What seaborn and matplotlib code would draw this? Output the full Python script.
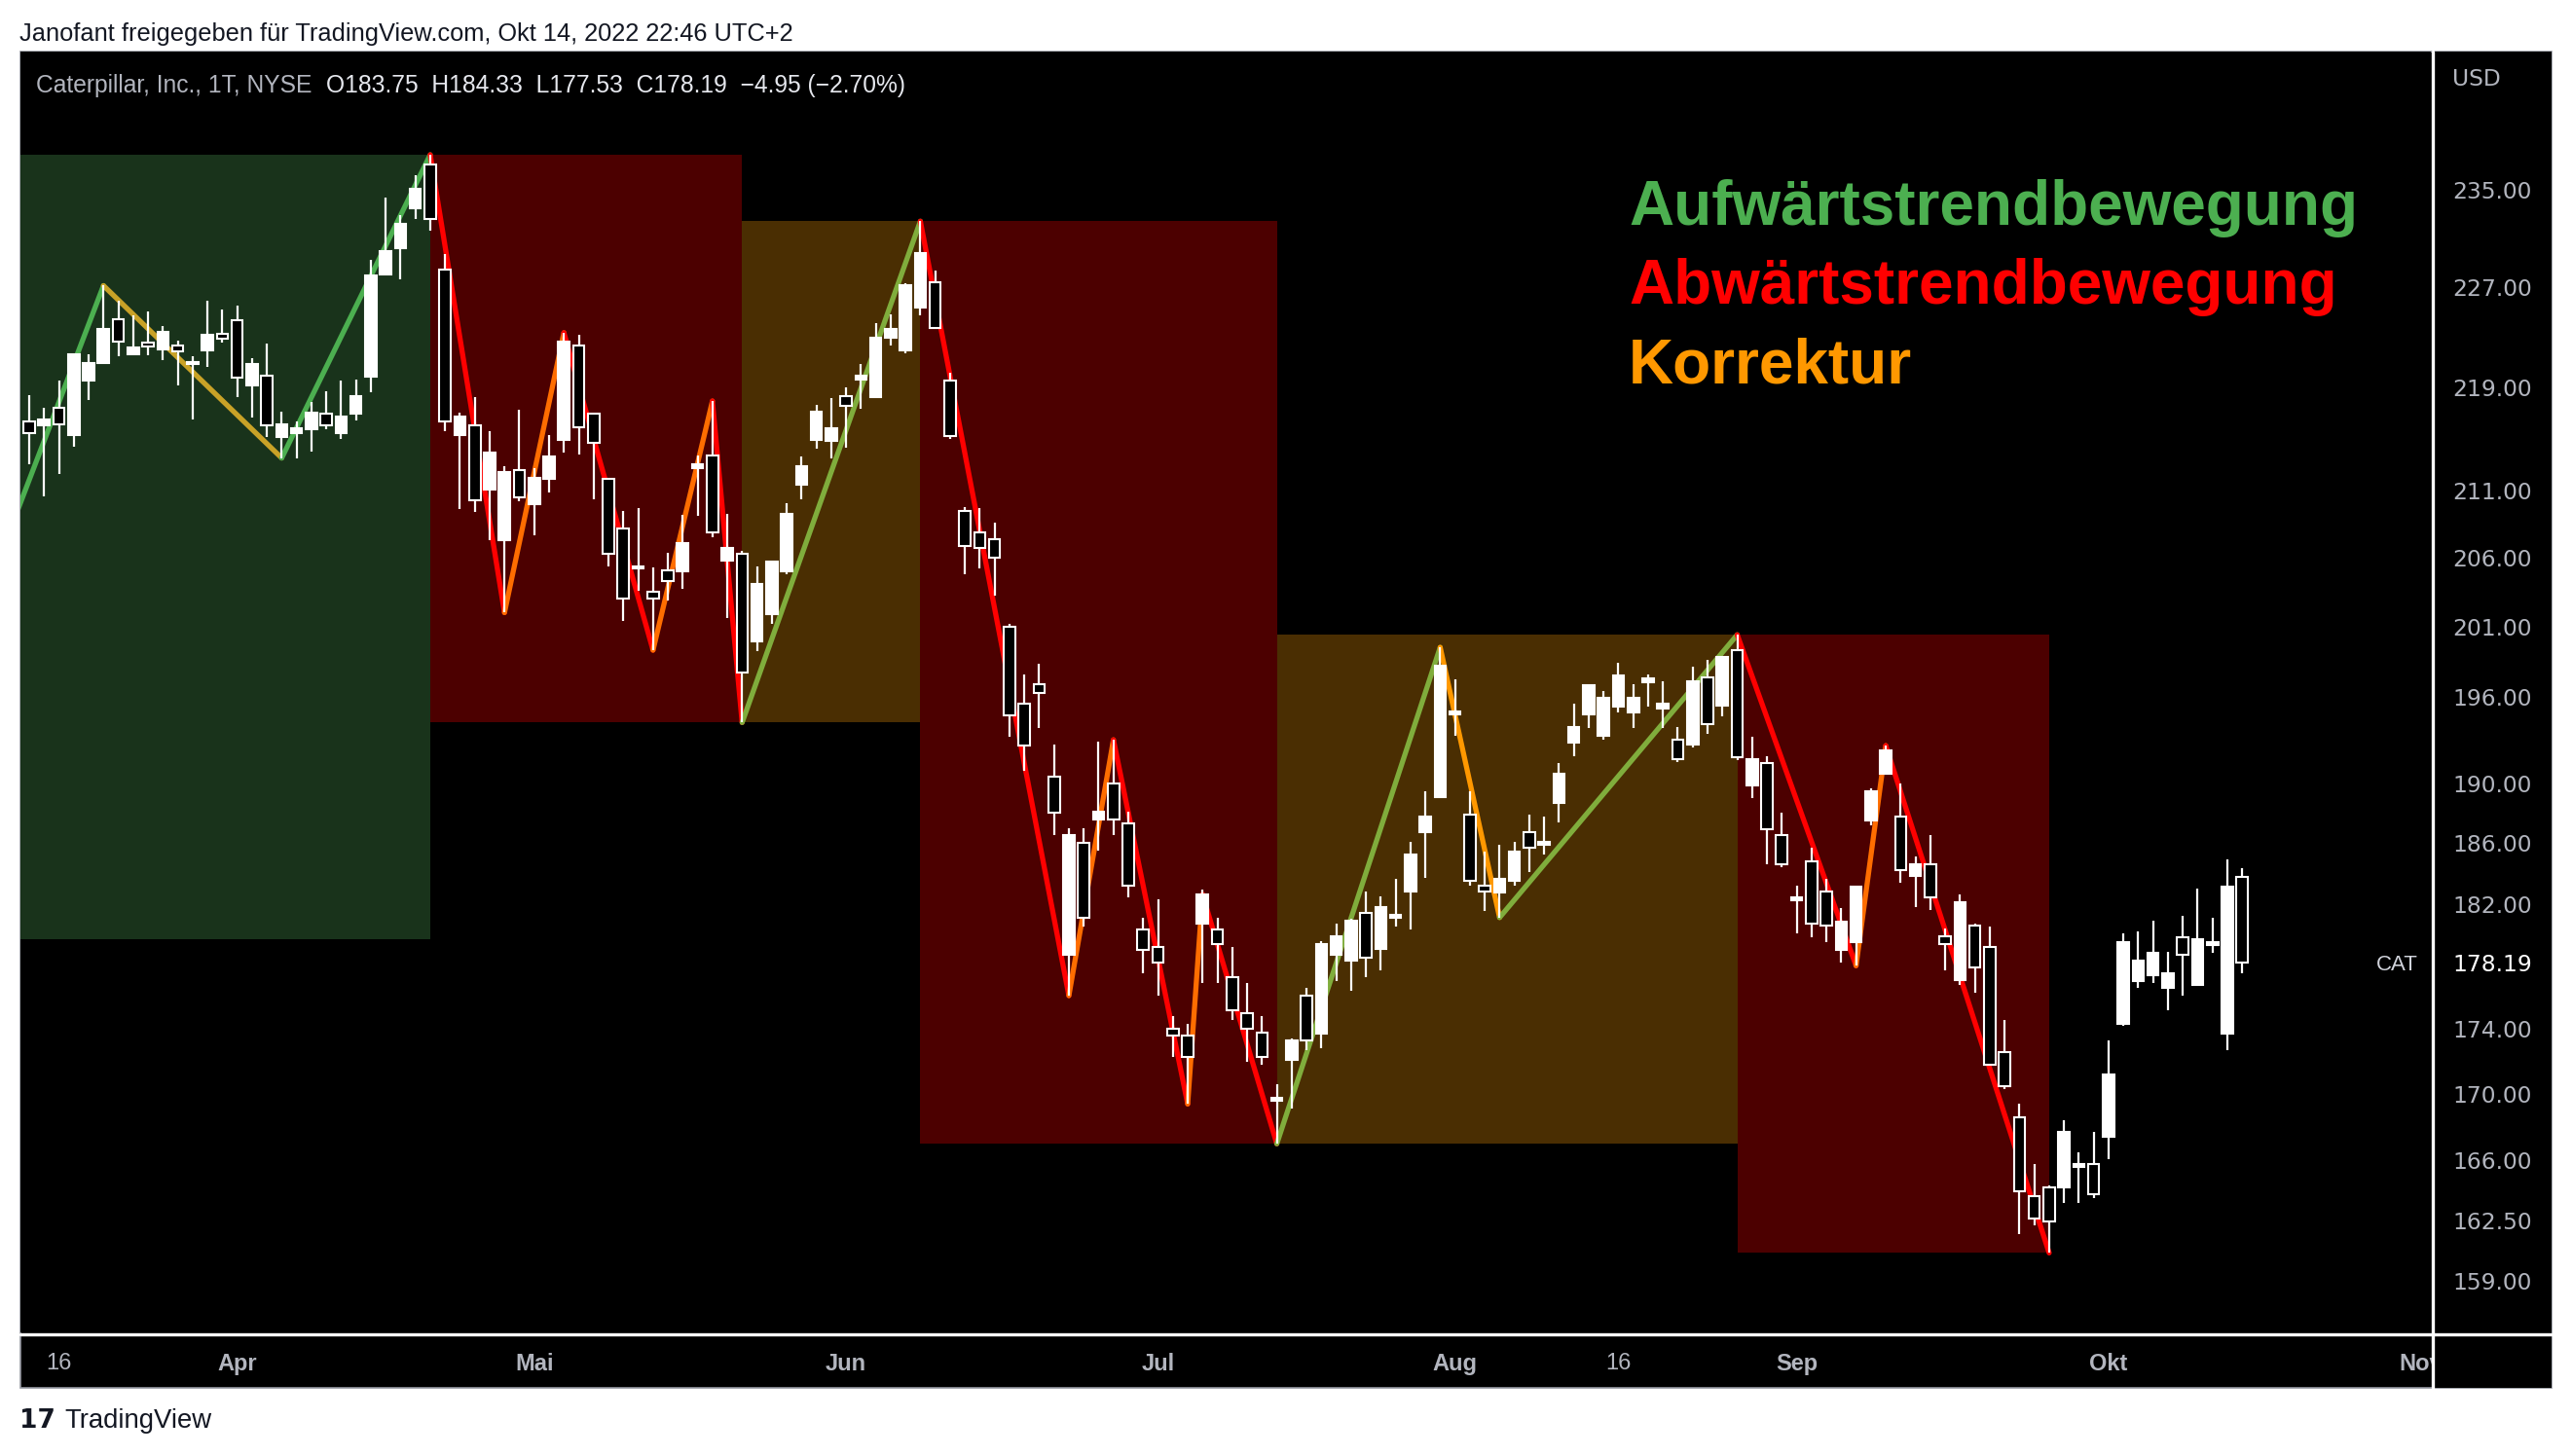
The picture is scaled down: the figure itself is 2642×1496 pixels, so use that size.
import numpy as np
import pandas as pd
import matplotlib
matplotlib.use('Agg')
import matplotlib.pyplot as plt
from matplotlib.patches import Rectangle
from matplotlib.lines import Line2D
import matplotlib.transforms as mtransforms
import seaborn as sns

# --- Daten (CAT, Tageskerzen 14.03.2022 - 14.10.2022, Index = Handelstag) ---
opens = [216.3, 216.0, 217.4, 215.3, 219.5, 220.9, 224.4, 221.6, 222.5, 222.0,
         222.3, 220.8, 221.9, 223.2, 224.3, 219.1, 219.9, 215.1, 215.4, 215.7,
         216.9, 215.4, 216.9, 219.8, 228.0, 230.2, 233.5, 237.2, 228.4, 215.3,
         216.0, 211.1, 207.3, 212.6, 210.0, 211.9, 214.9, 222.3, 216.9, 211.9,
         208.2, 205.4, 203.5, 205.1, 205.0, 212.7, 213.7, 205.8, 206.3, 199.9,
         201.9, 205.0, 211.5, 214.9, 214.8, 218.3, 219.6, 218.2, 222.9, 221.9,
         225.3, 227.4, 219.5, 209.5, 207.9, 207.4, 201.0, 195.5, 196.9, 190.5,
         178.7, 186.0, 187.6, 190.0, 187.3, 180.3, 179.2, 174.0, 173.6, 180.7,
         180.3, 177.3, 175.0, 173.8, 169.6, 172.1, 176.1, 173.7, 178.7, 178.3,
         181.4, 179.1, 181.1, 182.8, 186.7, 189.1, 194.8, 187.9, 183.2, 182.7,
         183.5, 186.7, 185.9, 188.7, 192.8, 194.8, 193.3, 195.3, 194.9, 197.0,
         195.2, 193.0, 192.7, 197.4, 195.4, 199.3, 189.9, 191.4, 186.5, 182.2,
         184.8, 182.8, 179.0, 179.5, 187.5, 190.7, 187.8, 183.8, 184.6, 179.9,
         177.1, 180.6, 179.2, 172.6, 168.6, 163.9, 164.4, 164.4, 165.6, 165.8,
         167.4, 174.3, 177.0, 177.4, 176.6, 179.8, 176.8, 179.3, 173.7, 183.75]
highs = [218.4, 217.4, 219.5, 221.7, 221.6, 227.1, 225.9, 224.7, 225.0, 223.8,
         222.7, 221.4, 225.9, 225.2, 225.5, 221.3, 222.4, 217.1, 216.3, 217.8,
         218.7, 219.5, 219.6, 229.2, 234.4, 232.9, 236.3, 238.0, 229.7, 217.0,
         218.2, 215.6, 212.9, 217.2, 212.7, 215.3, 223.3, 223.1, 217.0, 212.0,
         209.5, 209.7, 205.3, 206.4, 209.2, 213.7, 217.9, 209.3, 206.5, 205.4,
         205.8, 210.1, 213.6, 217.6, 218.1, 219.0, 220.8, 224.1, 224.8, 227.3,
         232.4, 228.3, 220.1, 209.8, 209.7, 208.6, 201.2, 197.6, 198.3, 192.7,
         187.0, 187.0, 192.9, 193.0, 188.1, 181.1, 182.3, 174.8, 174.3, 182.9,
         181.1, 179.2, 176.9, 174.8, 170.6, 173.4, 176.6, 179.6, 180.7, 181.0,
         182.8, 182.5, 183.6, 186.1, 189.5, 199.5, 197.2, 189.5, 185.4, 185.9,
         186.1, 187.9, 187.8, 191.4, 195.5, 196.9, 196.4, 198.4, 196.9, 197.6,
         197.1, 193.9, 198.1, 198.6, 198.9, 200.4, 193.2, 191.9, 188.0, 183.2,
         185.7, 183.6, 181.7, 183.2, 189.7, 192.6, 190.0, 185.1, 186.5, 180.4,
         182.6, 180.7, 180.5, 174.6, 169.4, 165.8, 164.5, 168.4, 166.5, 167.7,
         173.3, 180.1, 180.2, 180.9, 178.9, 181.2, 183.0, 181.1, 184.9, 184.33]
lows = [213.0, 210.6, 212.3, 214.4, 218.0, 220.8, 221.4, 221.5, 221.5, 221.1,
        219.1, 216.5, 220.6, 222.5, 218.2, 216.6, 215.1, 213.5, 213.5, 214.0,
        215.7, 215.0, 216.4, 218.6, 227.9, 227.6, 232.6, 231.6, 215.6, 209.6,
        209.4, 207.3, 202.0, 210.2, 207.7, 210.9, 213.9, 213.8, 210.4, 205.4,
        201.4, 203.6, 199.3, 202.9, 203.7, 209.1, 207.5, 201.6, 194.2, 199.2,
        201.2, 204.8, 210.4, 214.2, 213.5, 214.3, 217.3, 218.1, 222.3, 221.7,
        224.7, 223.6, 215.0, 204.8, 205.2, 203.2, 193.2, 190.9, 193.8, 186.5,
        176.1, 180.5, 185.5, 186.5, 182.4, 177.5, 176.1, 172.3, 169.4, 176.9,
        176.9, 174.6, 172.0, 171.8, 167.0, 169.1, 172.7, 172.8, 177.0, 176.4,
        177.3, 177.7, 180.5, 180.3, 183.7, 189.0, 193.3, 183.2, 181.5, 181.1,
        183.2, 184.1, 185.2, 187.4, 191.9, 193.8, 193.0, 194.9, 193.8, 195.3,
        193.8, 191.5, 192.5, 193.4, 194.6, 191.6, 189.0, 184.6, 184.4, 180.1,
        179.8, 179.5, 178.2, 178.0, 187.2, 190.6, 183.4, 181.8, 181.6, 177.7,
        176.8, 176.3, 171.8, 170.3, 161.7, 162.2, 160.6, 163.5, 163.5, 163.8,
        166.1, 174.2, 176.6, 176.9, 175.2, 176.1, 176.7, 178.8, 172.7, 177.53]
closes = [215.4, 216.5, 216.1, 221.6, 220.9, 223.6, 222.6, 222.1, 222.2, 223.4,
          221.8, 221.0, 223.1, 222.8, 219.7, 220.8, 216.0, 216.1, 215.8, 217.0,
          216.0, 216.7, 218.3, 227.9, 229.9, 232.2, 235.1, 232.6, 216.3, 216.7,
          210.3, 213.9, 212.4, 210.5, 212.0, 213.6, 222.6, 215.9, 214.7, 206.3,
          203.0, 205.2, 203.0, 204.3, 207.1, 213.0, 207.9, 206.7, 197.7, 204.1,
          205.7, 209.3, 212.9, 217.1, 215.8, 217.5, 219.9, 222.9, 223.6, 227.1,
          229.8, 223.7, 215.2, 206.9, 206.7, 206.0, 194.7, 192.6, 196.3, 188.0,
          186.5, 181.1, 188.1, 187.6, 183.2, 179.0, 178.2, 173.6, 172.3, 182.6,
          179.4, 175.2, 174.0, 172.3, 169.8, 173.3, 173.3, 179.4, 179.9, 180.9,
          178.5, 181.8, 181.2, 185.2, 187.8, 198.2, 195.0, 183.5, 182.8, 183.6,
          185.4, 185.7, 186.0, 190.7, 193.9, 196.8, 195.9, 197.5, 195.9, 197.3,
          195.5, 191.7, 197.1, 194.1, 198.8, 191.8, 191.7, 186.9, 184.6, 182.4,
          180.7, 180.6, 180.8, 183.1, 189.5, 192.3, 184.2, 184.6, 182.4, 179.4,
          182.1, 177.9, 171.8, 170.5, 164.2, 162.6, 162.4, 167.7, 165.8, 164.0,
          171.2, 179.5, 178.3, 178.8, 177.5, 178.7, 179.7, 179.5, 183.1, 178.19]

tick_pos = [2, 14, 34, 55, 76, 96, 107, 119, 140, 161]
tick_labels = ['16', 'Apr', 'Mai', 'Jun', 'Jul', 'Aug', '16', 'Sep', 'Okt', 'Nov']
price_ticks = [235, 227, 219, 211, 206, 201, 196, 190, 186, 182, 174, 170, 166, 162.5, 159]

# Zickzack-Pivots (Handelstag, Kurs) und Farbe je Teilstueck
zz_bar = [-1, 5, 17, 27, 32, 36, 42, 46, 48, 60, 70, 73, 78, 79, 84, 95, 99, 115, 123, 125, 136]
zz_price = [208.9, 227.1, 213.5, 238.0, 202.0, 223.3, 199.3, 217.9, 194.2, 232.4, 176.1,
            193.0, 169.4, 182.6, 167.0, 199.5, 181.1, 200.4, 178.0, 192.6, 160.6]
zz_colors = ['#4caf50', '#c9a227', '#4caf50', '#ff0000', '#ff6d00', '#ff0000', '#ff6d00',
             '#ff0000', '#80ad3c', '#ff0000', '#ff6d00', '#ff0000', '#ff6d00', '#ff0000',
             '#80ad3c', '#ff9800', '#80ad3c', '#ff0000', '#ff6d00', '#ff0000']

# Trendzonen
zone_start = [-2, 27, 48, 60, 84, 115]
zone_end = [27, 48, 60, 84, 115, 136]
zone_low = [179.7, 194.2, 194.2, 167.0, 167.0, 160.6]
zone_high = [238.0, 238.0, 232.4, 232.4, 200.4, 200.4]
zone_colors = ['#19331b', '#4c0000', '#4a2e02', '#4c0000', '#4a2e02', '#4c0000']

legend_texts = ['Aufwärtstrendbewegung', 'Abwärtstrendbewegung', 'Korrektur']
legend_colors = ['#4caf50', '#ff0000', '#ff9800']

sns.set_theme(style='dark')
plt.rcParams['font.family'] = ['Liberation Sans', 'DejaVu Sans']

W, H = 2642, 1496
def fx(px):
    return px / W
def fy(py):
    return 1 - py / H

fig = plt.figure(figsize=(W / 100, H / 100), dpi=100, facecolor='white')

# schwarzer Rahmen (Chart + Achsen)
fig.patches.append(Rectangle((fx(20.7), fy(1426)), fx(2621) - fx(20.7), fy(53) - fy(1426),
                             transform=fig.transFigure, facecolor='black',
                             edgecolor='#9598a1', lw=1.2, zorder=-5))

ax = fig.add_axes([fx(20.7), fy(1369), fx(2497) - fx(20.7), fy(53) - fy(1369)])
ax.set_facecolor('black')
for s in ax.spines.values():
    s.set_visible(False)
ax.set_yscale('log')
ax.set_ylim(156.09, 246.96)
ax.set_xlim(-0.61, 161.7)

# Zonen
for x0, x1, lo, hi, c in zip(zone_start, zone_end, zone_low, zone_high, zone_colors):
    ax.add_patch(Rectangle((x0, lo), x1 - x0, hi - lo, facecolor=c, edgecolor='none', zorder=1))

# Zickzack-Linien
rows = []
for k in range(len(zz_bar) - 1):
    rows.append({'bar': zz_bar[k], 'price': zz_price[k], 'seg': k})
    rows.append({'bar': zz_bar[k + 1], 'price': zz_price[k + 1], 'seg': k})
df_zz = pd.DataFrame(rows)
sns.lineplot(data=df_zz, x='bar', y='price', hue='seg', units='seg', estimator=None,
             palette={k: c for k, c in enumerate(zz_colors)}, sort=False, legend=False,
             linewidth=3.8, solid_capstyle='round', ax=ax, zorder=2)

# Kerzen
df = pd.DataFrame({'o': opens, 'h': highs, 'l': lows, 'c': closes})
df['bar'] = np.arange(len(df))
up = df['c'] >= df['o']
ax.vlines(df['bar'], df['l'], df['h'], color='white', lw=1.6, zorder=3)
body_lo = np.minimum(df['o'], df['c'])
body_h = np.maximum(np.abs(df['c'] - df['o']), 0.18)
ax.bar(df['bar'], body_h, bottom=body_lo, width=0.76,
       color=np.where(up, 'white', 'black'), edgecolor='white', linewidth=1.5, zorder=4)

ax.set_xlabel('')
ax.set_ylabel('')
ax.yaxis.set_major_locator(matplotlib.ticker.NullLocator())
ax.yaxis.set_minor_locator(matplotlib.ticker.NullLocator())
ax.set_xticks(tick_pos)
ax.set_xticklabels(tick_labels)
ax.tick_params(axis='x', length=0, pad=15, labelsize=17, labelcolor='#b2b5be')
for lbl in ax.get_xticklabels():
    if lbl.get_text() != '16':
        lbl.set_fontweight('bold')
ax.grid(False)

# Legende
for k, (t, c) in enumerate(zip(legend_texts, legend_colors)):
    ax.text(fx(1673), fy(231 + 81 * k), t, transform=fig.transFigure, color=c,
            fontsize=46, fontweight='bold', va='baseline', ha='left', zorder=6)

# Kopfzeile im Chart
fig.text(fx(37), fy(95), 'Caterpillar, Inc., 1T, NYSE', color='#b2b5be', fontsize=17.7,
         va='baseline', ha='left')
fig.text(fx(335), fy(95), 'O183.75  H184.33  L177.53  C178.19  −4.95 (−2.70%)',
         color='#e6e8ee', fontsize=17.7, va='baseline', ha='left')

trans = mtransforms.blended_transform_factory(ax.transAxes, ax.transData)
ax.text((2462 - 20.7) / (2497 - 20.7), closes[-1], 'CAT', transform=trans, color='#d1d4dc',
        fontsize=16, ha='center', va='center_baseline', zorder=6)

# Preisskala
axp = fig.add_axes([fx(2500), fy(1426), fx(2621) - fx(2500), fy(53) - fy(1426)])
axp.set_facecolor('black')
axp.set_yscale('log')
axp.set_ylim(153.02, 246.96)
axp.set_xlim(0, 1)
for s in axp.spines.values():
    s.set_visible(False)
axp.set_xticks([])
axp.yaxis.set_major_locator(matplotlib.ticker.NullLocator())
axp.yaxis.set_minor_locator(matplotlib.ticker.NullLocator())
ptrans = mtransforms.blended_transform_factory(axp.transAxes, axp.transData)
for p in price_ticks:
    axp.text(0.16, p, f'{p:.2f}', transform=ptrans, color='#b2b5be', fontsize=16.8,
             family='DejaVu Sans', ha='left', va='center_baseline')
axp.text(0.16, closes[-1], f'{closes[-1]:.2f}', transform=ptrans, color='white',
         fontsize=16.8, family='DejaVu Sans', ha='left', va='center_baseline')
fig.text(fx(2519), fy(79), 'USD', color='#b2b5be', fontsize=16.8, family='DejaVu Sans',
         ha='left', va='center_baseline')

# weisse Trennlinien
fig.add_artist(Line2D([fx(2498.5), fx(2498.5)], [fy(53), fy(1426)], color='white', lw=2.4,
                      transform=fig.transFigure))
fig.add_artist(Line2D([fx(20.7), fx(2621)], [fy(1370.5), fy(1370.5)], color='white', lw=2.4,
                      transform=fig.transFigure))

# Texte ausserhalb
fig.text(fx(20), fy(42), 'Janofant freigegeben für TradingView.com, Okt 14, 2022 22:46 UTC+2',
         color='#131722', fontsize=18.3, va='baseline', ha='left')
fig.text(fx(20), fy(1467), '17', color='#131722', fontsize=19, fontweight='heavy',
         family='DejaVu Sans', va='baseline', ha='left')
fig.text(fx(66), fy(1467), 'TradingView', color='#131722', fontsize=19.8,
         va='baseline', ha='left')

fig.savefig('out.png', dpi=100, facecolor='white')
